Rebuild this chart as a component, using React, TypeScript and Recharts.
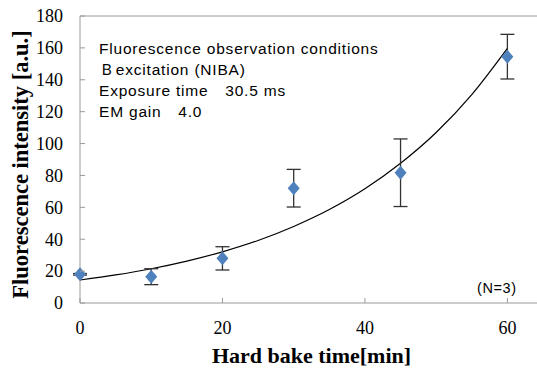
import React from 'react';
import {
  ComposedChart,
  Scatter,
  Line,
  XAxis,
  YAxis,
  ErrorBar,
  ReferenceLine,
  Customized,
} from 'recharts';

// measured points (mean ± SD, N=3)
const bakeTimes = [0, 10, 20, 30, 45, 60];
const intensities = [18, 16.5, 28, 72, 81.7, 154.5];
const sdValues = [0.5, 5, 7.3, 11.8, 21.2, 14];

// exponential trendline
const trendTimes = [0, 5, 10, 15, 20, 25, 30, 35, 40, 45, 50, 55, 60];
const trendValues = [14.4, 17.6, 21.5, 26.3, 32.1, 39.2, 48.0, 58.6, 71.6, 87.6, 106.9, 130.7, 159.7];

const xTicks = [0, 20, 40, 60];
const yTicks = [0, 20, 40, 60, 80, 100, 120, 140, 160, 180];

const noteLines = [
  'Fluorescence observation conditions',
  'Ｂexcitation (NIBA)',
  'Exposure time\u300030.5 ms',
  'EM gain\u30004.0',
];

const pointData = bakeTimes.map((t, i) => ({ x: t, y: intensities[i], err: sdValues[i] }));
const trendData = trendTimes.map((t, i) => ({ x: t, trend: trendValues[i] }));

const SERIF = '"Liberation Serif", "Times New Roman", serif';
const SANS = '"Liberation Sans", Arial, sans-serif';
const FRAME = '#9a9a9a';
const Y_MARGIN = 17;
const X_MARGIN = 18;

function YTick(props: any) {
  const { x, y, payload } = props;
  const ax = x + Y_MARGIN;
  return (
    <g>
      <line x1={ax} x2={ax + 5} y1={y} y2={y} stroke={FRAME} />
      <text x={x} y={y} dy="0.35em" textAnchor="end" fontFamily={SERIF} fontSize={18} fill="#000">
        {payload.value}
      </text>
    </g>
  );
}

function XTick(props: any) {
  const { x, y, payload } = props;
  const ay = y - X_MARGIN;
  return (
    <g>
      <line x1={x} x2={x} y1={ay} y2={ay - 5} stroke={FRAME} />
      <text x={x} y={y} dy="0.71em" textAnchor="middle" fontFamily={SERIF} fontSize={18} fill="#000">
        {payload.value}
      </text>
    </g>
  );
}

function Diamond(props: any) {
  const { cx, cy } = props;
  if (cx == null || cy == null) return null;
  return (
    <polygon
      points={`${cx},${cy - 7} ${cx + 6},${cy} ${cx},${cy + 7} ${cx - 6},${cy}`}
      fill="#4F81BD"
    />
  );
}

function Notes() {
  return (
    <g fontFamily={SANS} fill="#000" style={{ whiteSpace: 'pre' }}>
      {noteLines.map((s, i) => (
        <text key={i} x={99} y={54.3 + i * 20.8} fontSize={15.5} letterSpacing={0.8}>
          {s}
        </text>
      ))}
      <text x={477} y={293} fontSize={14.5} letterSpacing={0.6}>
        (N=3)
      </text>
    </g>
  );
}

export default function App() {
  return (
    <div
      style={{
        position: 'absolute',
        left: 0,
        top: 0,
        width: 537,
        height: 369,
        overflow: 'hidden',
        background: '#fff',
      }}
    >
      <ComposedChart width={560} height={369} margin={{ top: 16, right: 17, bottom: 0, left: 0 }}>
        <XAxis
          dataKey="x"
          type="number"
          domain={[0, 65]}
          ticks={xTicks}
          height={66}
          tickSize={0}
          tickMargin={X_MARGIN}
          tickLine={false}
          axisLine={{ stroke: FRAME }}
          tick={<XTick />}
          label={{
            value: 'Hard bake time[min]',
            position: 'insideBottom',
            offset: 6,
            style: { fontFamily: SERIF, fontSize: 22, fontWeight: 'bold', fill: '#000' },
          }}
        />
        <YAxis
          type="number"
          domain={[0, 180]}
          ticks={yTicks}
          width={80}
          tickSize={0}
          tickMargin={Y_MARGIN}
          tickLine={false}
          axisLine={{ stroke: FRAME }}
          tick={<YTick />}
          label={{
            value: 'Fluorescence intensity [a.u.]',
            angle: -90,
            position: 'insideLeft',
            offset: 20,
            dy: 5,
            style: {
              fontFamily: SERIF,
              fontSize: 22.5,
              fontWeight: 'bold',
              fill: '#000',
              textAnchor: 'middle',
            },
          }}
        />
        <ReferenceLine y={180} stroke={FRAME} />
        <ReferenceLine x={65} stroke={FRAME} />
        <Line
          data={trendData}
          dataKey="trend"
          type="monotone"
          stroke="#000"
          strokeWidth={1.2}
          dot={false}
          activeDot={false}
          isAnimationActive={false}
        />
        <Scatter data={pointData} dataKey="y" shape={<Diamond />} isAnimationActive={false}>
          <ErrorBar dataKey="err" direction="y" width={7} stroke="#333" strokeWidth={1.3} />
        </Scatter>
        <Customized component={Notes} />
      </ComposedChart>
    </div>
  );
}
